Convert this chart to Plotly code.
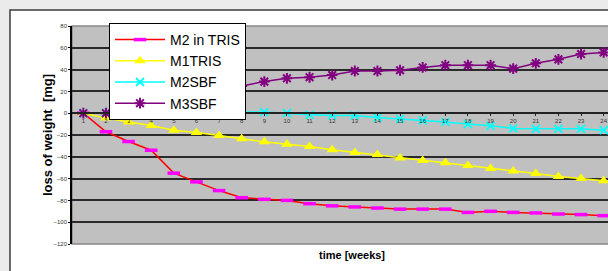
import plotly.graph_objects as go

weeks = list(range(1, 25))
week_labels = [str(w) for w in weeks]

m2_tris = [0, -17, -26, -34, -55, -63, -71, -77.5, -79, -80, -83, -85, -86, -87, -88,
           -88, -88, -91, -90, -91, -91.5, -92.5, -93, -94]
m1_tris = [0, -4.5, -8, -11.3, -15.6, -17.7, -20.5, -23.5, -26.3, -28.4, -30.6, -33.6,
           -36, -38, -41, -43.4, -45.5, -48, -50.7, -53, -55.3, -58, -60, -62]
m2_sbf = [0, 0, 0, 0, 0, 0, 1, 1, 1, 0, -1.5, -2, -2, -4, -5.2, -6.7, -8, -10, -11.6,
          -14, -14.3, -14.3, -14.3, -15.6]
m3_sbf = [0, 0, 6, 6, 10.7, 15.2, 19.8, 25, 29, 32, 33, 35, 38.7, 38.7, 39.4, 42, 44,
          44, 44, 40.9, 45.8, 49.4, 54.3, 55.8]

series_names = ["M2 in TRIS", "M1TRIS", "M2SBF", "M3SBF"]
y_ticks = [-120, -100, -80, -60, -40, -20, 0, 20, 40, 60, 80]

W, H = 608, 271
L, R, T, B = 72, 0, 26, 27
pw, ph = W - L - R, H - T - B

def px_x(p):
    return (p - L) / pw

def px_y(p):
    return (H - B - p) / ph

fig = go.Figure()
fig.add_trace(go.Scatter(x=weeks, y=m2_tris, name=series_names[0], mode="lines+markers",
                         line=dict(color="#ff0000", width=1.5),
                         marker=dict(symbol="line-ew", size=9, line=dict(color="#ff00ff", width=3.5))))
fig.add_trace(go.Scatter(x=weeks, y=m1_tris, name=series_names[1], mode="lines+markers",
                         line=dict(color="#ffff00", width=1.5),
                         marker=dict(symbol="triangle-up", size=10, color="#ffff00")))
fig.add_trace(go.Scatter(x=weeks, y=m2_sbf, name=series_names[2], mode="lines+markers",
                         line=dict(color="#00ffff", width=1.5),
                         marker=dict(symbol="x-thin", size=8, line=dict(color="#00ffff", width=1.8))))
fig.add_trace(go.Scatter(x=weeks, y=m3_sbf, name=series_names[3], mode="lines+markers",
                         line=dict(color="#800080", width=1.5),
                         marker=dict(symbol="asterisk", size=9, line=dict(color="#800080", width=2))))

shapes = [
    dict(type="rect", xref="paper", yref="paper", x0=px_x(10), x1=px_x(640),
         y0=px_y(300), y1=px_y(10), fillcolor="white",
         line=dict(color="#3a3a3a", width=1.5), layer="below"),
    dict(type="rect", xref="paper", yref="paper", x0=0, x1=1.05, y0=0, y1=1,
         fillcolor="#c0c0c0", line=dict(color="#888888", width=1.5), layer="below"),
]

annotations = [
    dict(text="<b>loss of weight  [mg]</b>", xref="paper", yref="paper", x=px_x(47), y=0.5,
         textangle=-90, showarrow=False, font=dict(size=13, color="black", family="Liberation Sans"),
         xanchor="center", yanchor="middle"),
    dict(text="<b>time [weeks]</b>", xref="paper", yref="paper", x=px_x(352), y=px_y(255),
         showarrow=False, font=dict(size=11, color="black", family="Liberation Sans"),
         xanchor="center", yanchor="middle"),
]

fig.update_layout(
    width=W, height=H,
    margin=dict(l=L, r=R, t=T, b=B, autoexpand=False),
    paper_bgcolor="#ebebeb",
    plot_bgcolor="rgba(0,0,0,0)",
    font=dict(family="Liberation Sans", color="black"),
    shapes=shapes,
    annotations=annotations,
    showlegend=True,
    legend=dict(x=px_x(109), y=px_y(23), xanchor="left", yanchor="top",
                bgcolor="white", bordercolor="black", borderwidth=1,
                font=dict(size=14, color="black", family="Liberation Sans"),
                itemwidth=50, tracegroupgap=0),
    xaxis=dict(range=[0.5, 24.5 - 7 / 22.65], tickvals=weeks, ticktext=week_labels,
               anchor="free", position=0.6, showgrid=False, zeroline=False,
               showline=True, linecolor="#222222", linewidth=1.5, automargin=False,
               ticks="outside", ticklen=2, tickcolor="#222222",
               tickfont=dict(size=6, color="#333333")),
    yaxis=dict(range=[-120, 80], tickvals=y_ticks, showgrid=True, gridcolor="#2a2a2a",
               gridwidth=1.5, zeroline=False, showline=True, linecolor="black", linewidth=1.5,
               automargin=False, ticks="outside", ticklen=2, tickcolor="black",
               tickfont=dict(size=6, color="#333333")),
)

fig.write_html("out.html", config={"displayModeBar": False},
               post_script="document.body.style.margin='0';")
